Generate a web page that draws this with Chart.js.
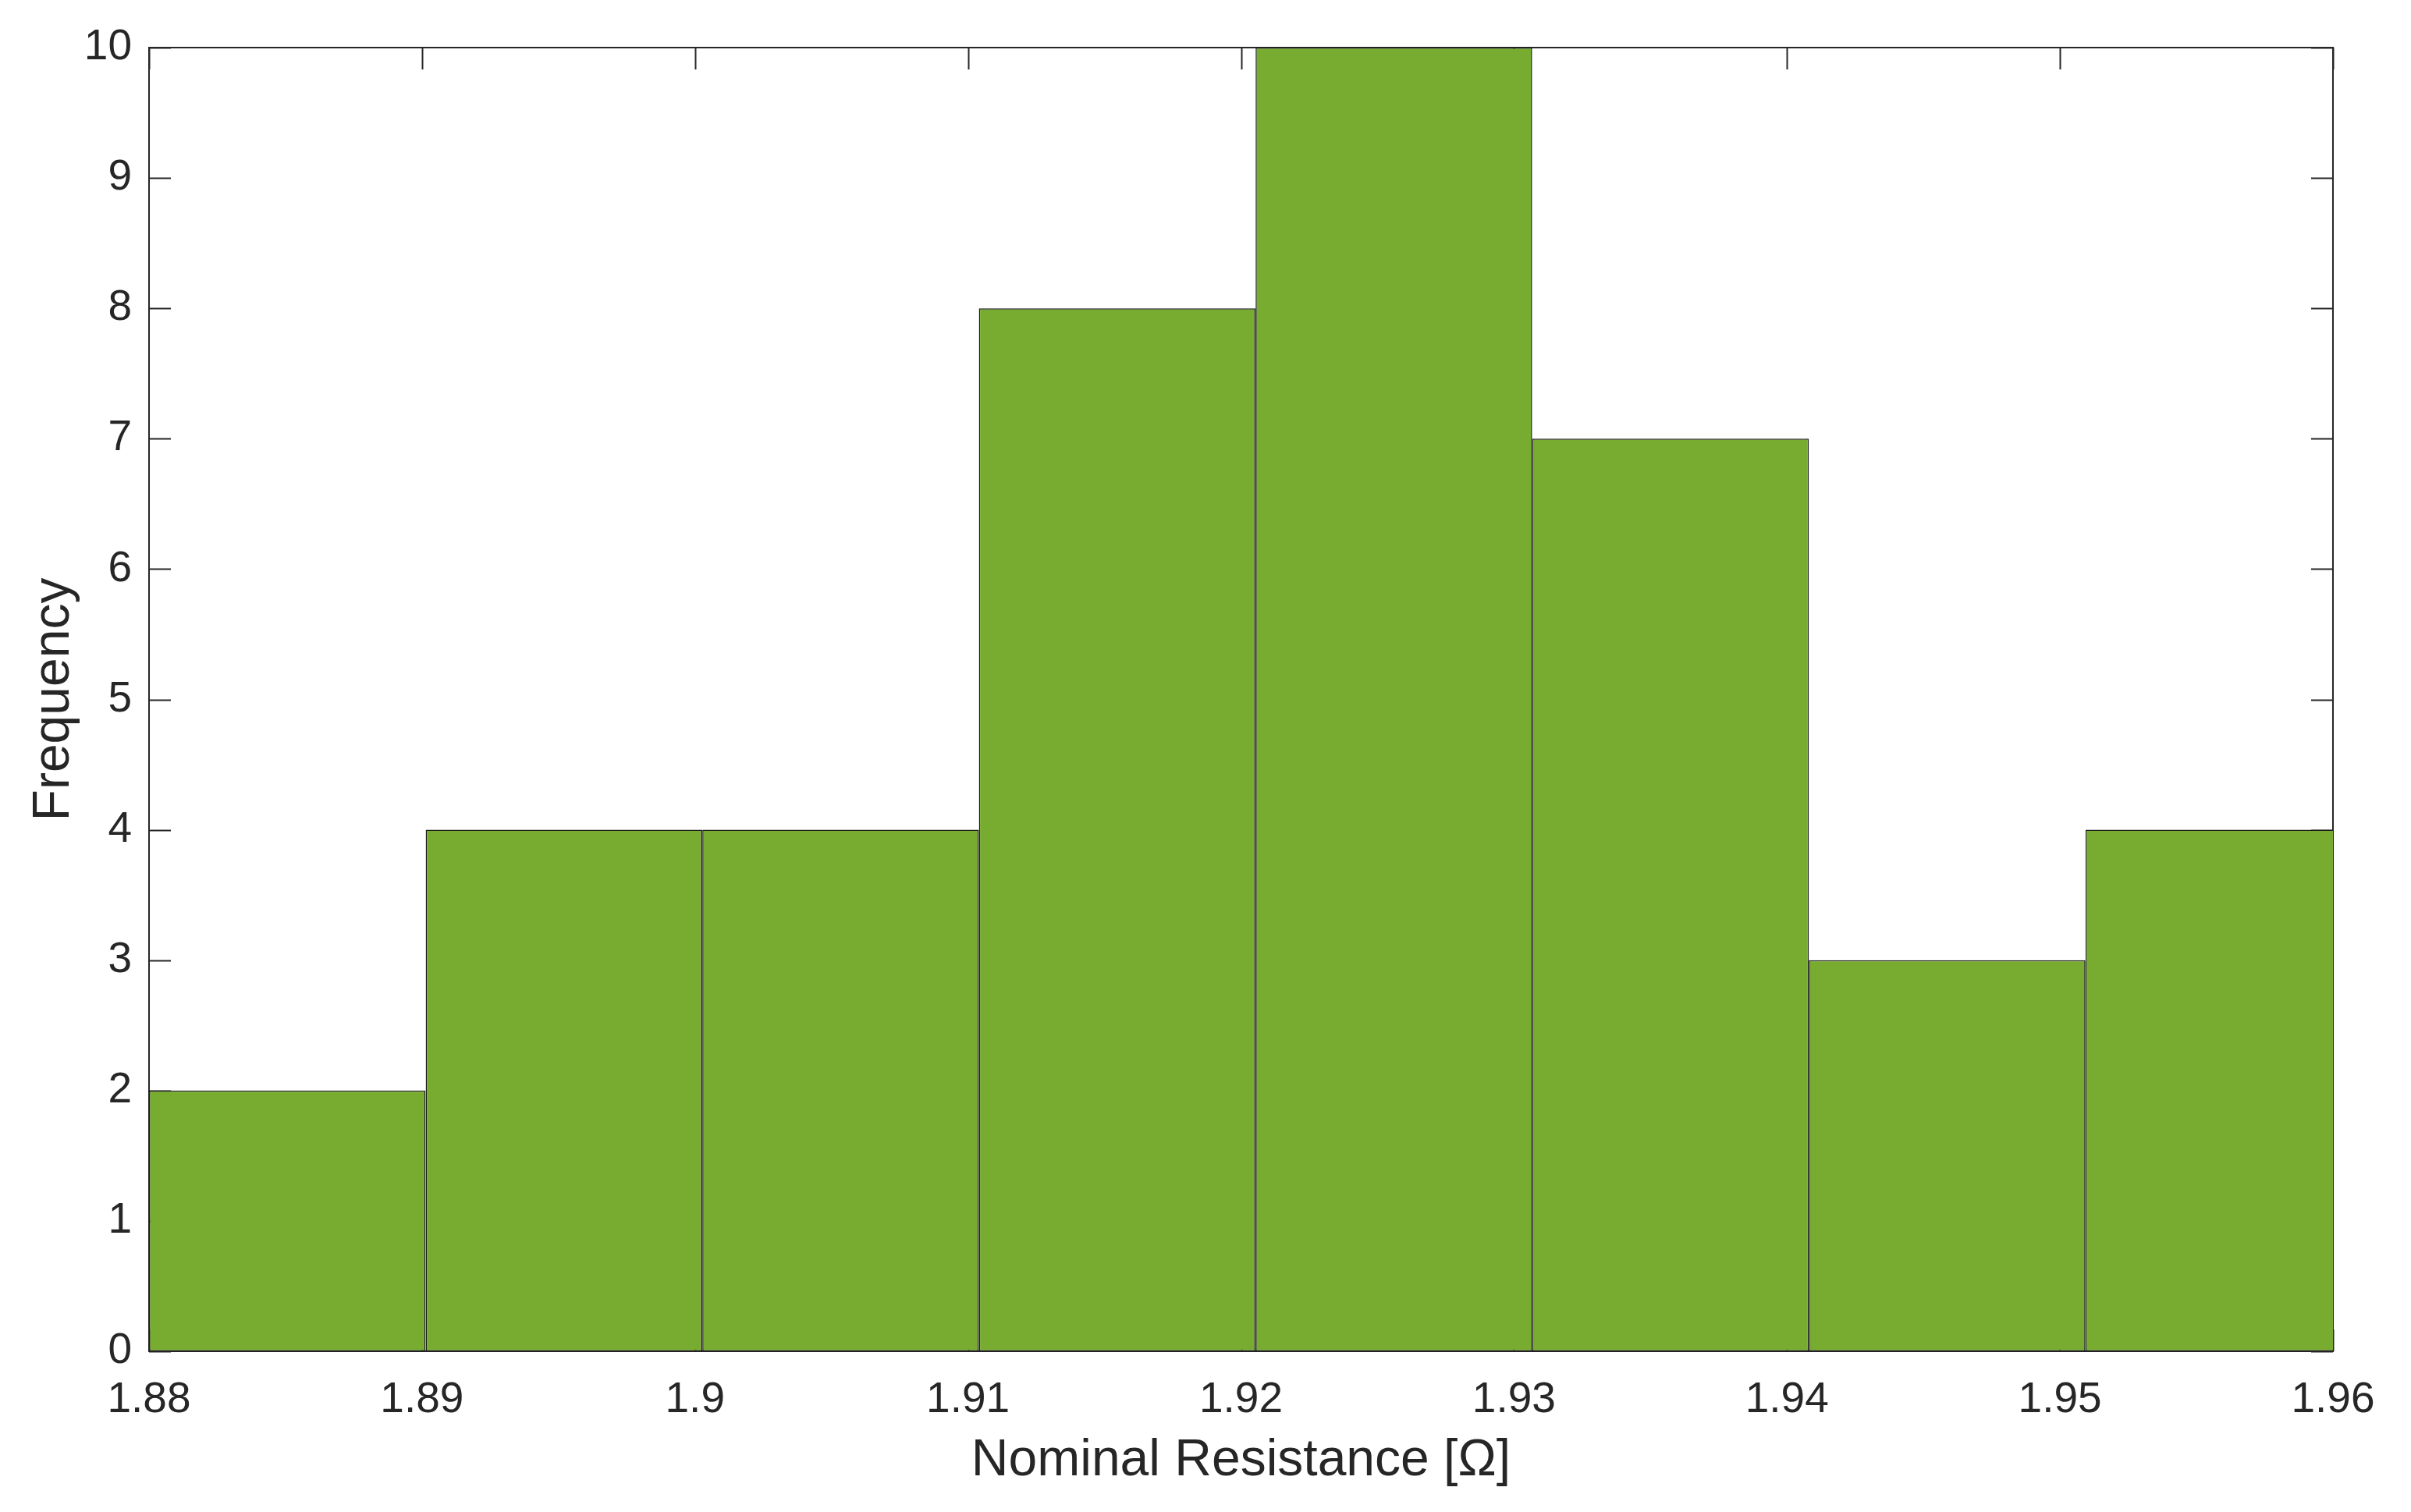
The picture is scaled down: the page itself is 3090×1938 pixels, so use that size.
<!DOCTYPE html>
<html>
<head>
<meta charset="utf-8">
<title>Nominal Resistance histogram</title>
<script src="https://cdn.jsdelivr.net/npm/chart.js@4/dist/chart.umd.min.js"></script>
<style>
  html, body { margin: 0; padding: 0; background: #fff; }
  canvas { display: block; }
</style>
</head>
<body>
<canvas id="hist" width="3090" height="1938"></canvas>
<script>
// histogram bins (edges) and counts
const binEdges = [1.88, 1.89013, 1.90027, 1.9104, 1.92053, 1.93067, 1.9408, 1.95093, 1.96107];
const counts = [2, 4, 4, 8, 10, 7, 3, 4];
const xTickStep = 0.01;
const xTickLabels = ['1.88', '1.89', '1.9', '1.91', '1.92', '1.93', '1.94', '1.95', '1.96'];
const yTickLabels = ['0', '1', '2', '3', '4', '5', '6', '7', '8', '9', '10'];

const textColor = '#262626';
const fontFamily = "'Liberation Sans', Arial, Helvetica, sans-serif";

// bars sit on bin centres
const points = counts.map((c, i) => ({ x: (binEdges[i] + binEdges[i + 1]) / 2, y: c }));
// chart.js measures bar room from the tick spacing, so stretch bars to the bin width
const binRatio = (binEdges[1] - binEdges[0]) / xTickStep;

// MATLAB style box with inward ticks, drawn under the bars
const axesBox = {
  id: 'axesBox',
  beforeDatasetsDraw(chart) {
    const { ctx, chartArea: a, scales: { x, y } } = chart;
    const len = 28;
    ctx.save();
    ctx.strokeStyle = textColor;
    ctx.lineWidth = 2;
    ctx.beginPath();
    x.ticks.forEach(t => {
      const px = Math.round(x.getPixelForValue(t.value)) + 0.5;
      ctx.moveTo(px, a.bottom); ctx.lineTo(px, a.bottom - len);
      ctx.moveTo(px, a.top); ctx.lineTo(px, a.top + len);
    });
    y.ticks.forEach(t => {
      const py = Math.round(y.getPixelForValue(t.value)) + 0.5;
      ctx.moveTo(a.left, py); ctx.lineTo(a.left + len, py);
      ctx.moveTo(a.right, py); ctx.lineTo(a.right - len, py);
    });
    ctx.stroke();
    ctx.strokeRect(a.left, a.top, a.right - a.left, a.bottom - a.top);
    ctx.restore();
  }
};

new Chart(document.getElementById('hist'), {
  type: 'bar',
  data: {
    datasets: [{
      data: points,
      backgroundColor: '#77AC30',
      borderColor: '#1a1a1a',
      borderWidth: 1.5,
      borderSkipped: false,
      barPercentage: binRatio,
      categoryPercentage: 1
    }]
  },
  options: {
    responsive: false,
    animation: false,
    layout: { padding: { left: 0, top: 61, right: 100, bottom: 0 } },
    plugins: { legend: { display: false }, tooltip: { enabled: false } },
    scales: {
      x: {
        type: 'linear',
        offset: false,
        min: 1.88,
        max: 1.96,
        grid: { display: false },
        border: { display: false },
        ticks: {
          stepSize: xTickStep,
          color: textColor,
          padding: 22,
          maxRotation: 0,
          font: { family: fontFamily, size: 55 },
          callback: (v, i) => xTickLabels[i]
        },
        title: {
          display: true,
          text: 'Nominal Resistance [Ω]',
          color: textColor,
          font: { family: fontFamily, size: 66 },
          padding: { top: 0, bottom: 26 }
        },
        afterFit: s => { s.height = 206; }
      },
      y: {
        min: 0,
        max: 10,
        grid: { display: false },
        border: { display: false },
        ticks: {
          stepSize: 1,
          color: textColor,
          padding: 14,
          font: { family: fontFamily, size: 55 },
          callback: (v, i) => yTickLabels[i]
        },
        title: {
          display: true,
          text: 'Frequency',
          color: textColor,
          font: { family: fontFamily, size: 66 },
          padding: { top: 30, bottom: 0 }
        },
        afterFit: s => { s.width = 191; }
      }
    }
  },
  plugins: [axesBox]
});
</script>
</body>
</html>
